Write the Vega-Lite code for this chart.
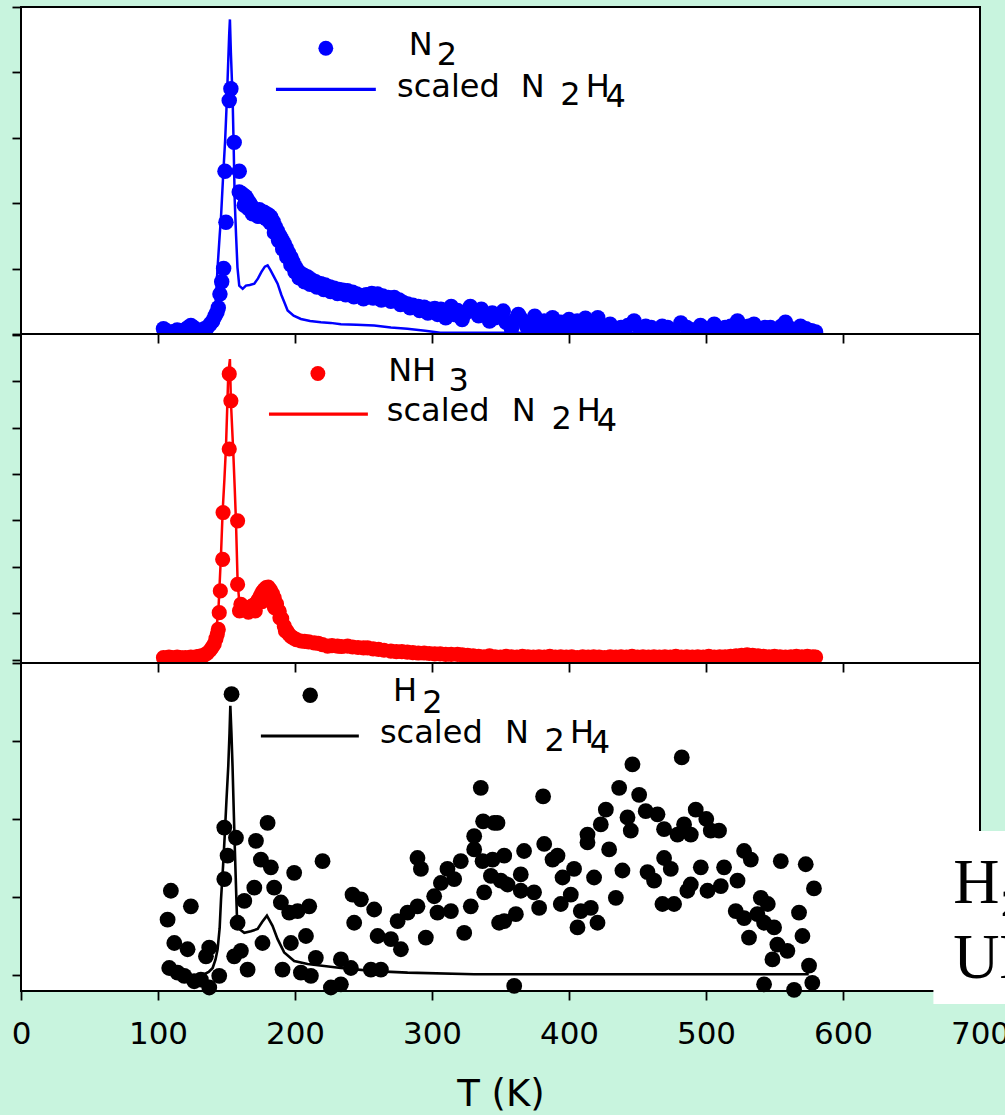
{
"$schema": "https://vega.github.io/schema/vega-lite/v6.json",
"padding": {"left": 10, "top": 5, "right": 0, "bottom": 20},
"background": "#c8f4de",
"bounds": "flush",
"spacing": 0,
"datasets": {
"n2dots": [
{"T":104,"v":0.08},{"T":106,"v":0.05},{"T":108,"v":0.03},{"T":110,"v":0.02},{"T":112,"v":0.04},{"T":114,"v":0.06},{"T":116,"v":0.05},{"T":118,"v":0.03},{"T":120,"v":0.07},{"T":122,"v":0.1},{"T":124,"v":0.13},{"T":126,"v":0.1},{"T":128,"v":0.06},{"T":130,"v":0.04},{"T":132,"v":0.06},{"T":134,"v":0.08},{"T":136,"v":0.1},{"T":138,"v":0.15},{"T":139.9,"v":0.2},{"T":141.5,"v":0.27},{"T":143,"v":0.33},{"T":144,"v":0.4},{"T":145.2,"v":0.61},{"T":146.5,"v":0.8},{"T":147.9,"v":1.0},{"T":149.6,"v":1.71},{"T":148.9,"v":2.49},{"T":152,"v":3.57},{"T":153.2,"v":3.75},{"T":155.6,"v":2.93},{"T":159.3,"v":2.49},{"T":159.3,"v":2.17},
{"T":161,"v":2.15},{"T":162.5,"v":2.12},{"T":164,"v":2.1},{"T":165.4,"v":2.05},{"T":167,"v":2.0},{"T":168.5,"v":1.95},{"T":170.3,"v":1.89},{"T":172,"v":1.88},{"T":174,"v":1.9},{"T":175.8,"v":1.87},{"T":177.5,"v":1.86},{"T":179,"v":1.84},{"T":180.7,"v":1.82},{"T":182.3,"v":1.79},{"T":184,"v":1.72},{"T":185.6,"v":1.64},{"T":187.3,"v":1.57},{"T":189,"v":1.5},{"T":190.5,"v":1.44},{"T":192.1,"v":1.38},{"T":193.7,"v":1.31},{"T":195.3,"v":1.24},{"T":197,"v":1.17},{"T":198.5,"v":1.1},{"T":200.2,"v":1.03},{"T":201.9,"v":0.97},{"T":204,"v":0.93},{"T":206.5,"v":0.9},{"T":209.2,"v":0.87},{"T":212,"v":0.83},{"T":215,"v":0.8},{"T":218.9,"v":0.77},{"T":222,"v":0.75},{"T":225.5,"v":0.72},{"T":228.6,"v":0.7},{"T":232,"v":0.68},{"T":235,"v":0.67},{"T":238.3,"v":0.66},{"T":242,"v":0.64},{"T":245,"v":0.61},{"T":248,"v":0.59},{"T":252,"v":0.6},{"T":256,"v":0.62},{"T":260.3,"v":0.61},{"T":264,"v":0.58},{"T":268,"v":0.56},{"T":272.4,"v":0.56},{"T":276,"v":0.52},{"T":279,"v":0.48},{"T":282.2,"v":0.46},{"T":286,"v":0.44},{"T":290,"v":0.42},{"T":294.3,"v":0.41},{"T":298,"v":0.38},{"T":302,"v":0.39},{"T":306.5,"v":0.38},{"T":310,"v":0.25},{"T":312,"v":0.36},{"T":316,"v":0.3},{"T":318.6,"v":0.36},{"T":322,"v":0.22},{"T":325,"v":0.33},{"T":330.8,"v":0.36},{"T":334,"v":0.28},{"T":338,"v":0.3},{"T":342,"v":0.2},{"T":346,"v":0.25},{"T":350,"v":0.28},{"T":354,"v":0.18},{"T":358,"v":0.08},{"T":361,"v":0.22},{"T":365,"v":0.23},{"T":369,"v":0.12},{"T":373,"v":0.2},{"T":377,"v":0.06},{"T":382,"v":0.2},{"T":386,"v":0.12},{"T":390,"v":0.1},{"T":394,"v":0.18},{"T":398,"v":0.06},{"T":402,"v":0.12},{"T":406,"v":0.2},{"T":410,"v":0.08},{"T":414,"v":0.15},{"T":418,"v":0.1},{"T":421,"v":0.25},{"T":425,"v":0.12},{"T":430,"v":0.15},{"T":434,"v":0.05},{"T":438,"v":0.1},{"T":443,"v":0.13},{"T":447.5,"v":0.2},{"T":452,"v":0.08},{"T":456,"v":0.12},{"T":460,"v":0.1},{"T":464,"v":0.06},{"T":468,"v":0.12},{"T":472,"v":0.1},{"T":476,"v":0.05},{"T":481.6,"v":0.17},{"T":486,"v":0.1},{"T":490,"v":0.06},{"T":496,"v":0.13},{"T":500,"v":0.08},{"T":506,"v":0.15},{"T":510,"v":0.05},{"T":514,"v":0.1},{"T":518,"v":0.12},{"T":523,"v":0.2},{"T":527,"v":0.08},{"T":531,"v":0.12},{"T":535,"v":0.15},{"T":539,"v":0.05},{"T":543,"v":0.1},{"T":547,"v":0.1},{"T":551,"v":0.06},{"T":555,"v":0.12},{"T":558,"v":0.18},{"T":562,"v":0.08},{"T":566,"v":0.05},{"T":569,"v":0.12},{"T":573,"v":0.08},{"T":577,"v":0.05},{"T":580,"v":0.03},
{"T":163,"v":1.97},{"T":166,"v":1.92},{"T":169,"v":1.84},{"T":173,"v":1.8},{"T":176,"v":1.8},{"T":179,"v":1.76},{"T":182,"v":1.7},{"T":185,"v":1.55},{"T":188,"v":1.43},{"T":191,"v":1.3},{"T":194,"v":1.18},{"T":197,"v":1.06},{"T":200,"v":0.95},{"T":203,"v":0.86},{"T":207,"v":0.8},{"T":211,"v":0.76},{"T":216,"v":0.72},{"T":221,"v":0.68},{"T":226,"v":0.65},{"T":231,"v":0.62},{"T":237,"v":0.6},{"T":243,"v":0.57},{"T":250,"v":0.54},{"T":257,"v":0.55},{"T":263,"v":0.52},{"T":270,"v":0.5},{"T":277,"v":0.45},{"T":284,"v":0.4},{"T":291,"v":0.36},{"T":297,"v":0.32},{"T":304,"v":0.3},{"T":314,"v":0.42},{"T":320,"v":0.27},{"T":328,"v":0.42},{"T":336,"v":0.38},{"T":344,"v":0.32},{"T":352,"v":0.35},{"T":363,"v":0.3},{"T":375,"v":0.27},{"T":388,"v":0.25},{"T":400,"v":0.22},{"T":412,"v":0.24}
],
"n2line": [
{"T":105,"v":0.02},{"T":115,"v":0.02},{"T":125,"v":0.03},{"T":132,"v":0.05},{"T":137,"v":0.1},{"T":140,"v":0.2},{"T":142,"v":0.45},{"T":143.5,"v":1.02},{"T":145,"v":1.5},{"T":146,"v":1.79},{"T":147.5,"v":2.4},{"T":149,"v":2.96},{"T":150.3,"v":3.6},{"T":151.3,"v":4.19},{"T":152,"v":4.6},{"T":152.5,"v":4.81},{"T":153.2,"v":4.3},{"T":154.5,"v":3.57},{"T":155.3,"v":2.8},{"T":156,"v":2.04},{"T":157,"v":1.5},{"T":158,"v":1.02},{"T":159.3,"v":0.74},{"T":161.8,"v":0.69},{"T":164.2,"v":0.74},{"T":167,"v":0.75},{"T":170.3,"v":0.77},{"T":173,"v":0.85},{"T":175.5,"v":0.95},{"T":178,"v":1.03},{"T":180,"v":1.05},{"T":182,"v":0.98},{"T":184.5,"v":0.88},{"T":187.3,"v":0.77},{"T":190,"v":0.6},{"T":192.5,"v":0.47},{"T":194.6,"v":0.36},{"T":199,"v":0.28},{"T":204.3,"v":0.23},{"T":211,"v":0.2},{"T":218.9,"v":0.18},{"T":226,"v":0.17},{"T":233.5,"v":0.15},{"T":245,"v":0.14},{"T":257.8,"v":0.13},{"T":270,"v":0.1},{"T":282,"v":0.08},{"T":295,"v":0.05},{"T":306,"v":0.02},{"T":350,"v":0.02},{"T":400,"v":0.02},{"T":450,"v":0.02},{"T":500,"v":0.02},{"T":550,"v":0.02},{"T":580,"v":0.02}
],
"nh3dots": [
{"T":104,"v":0.04},{"T":106,"v":0.03},{"T":108,"v":0.05},{"T":110,"v":0.04},{"T":112,"v":0.03},{"T":114,"v":0.05},{"T":116,"v":0.04},{"T":118,"v":0.03},{"T":120,"v":0.04},{"T":122,"v":0.03},{"T":124,"v":0.05},{"T":126,"v":0.04},{"T":128,"v":0.06},{"T":130,"v":0.07},{"T":132,"v":0.08},{"T":134,"v":0.1},{"T":136,"v":0.14},{"T":138,"v":0.2},{"T":139.5,"v":0.26},{"T":141,"v":0.33},{"T":142.3,"v":0.45},{"T":143.3,"v":0.55},{"T":144,"v":0.65},{"T":144.7,"v":1.01},{"T":145.5,"v":1.48},{"T":147.2,"v":2.16},{"T":147.5,"v":3.17},{"T":152,"v":4.54},{"T":152,"v":6.16},{"T":153.2,"v":5.58},{"T":158.1,"v":2.99},{"T":158.1,"v":1.62},
{"T":159.5,"v":1.05},{"T":160.5,"v":1.19},{"T":162,"v":1.1},{"T":163.5,"v":1.08},{"T":165.4,"v":1.11},{"T":167,"v":1.12},{"T":168.5,"v":1.15},{"T":170,"v":1.18},{"T":171.5,"v":1.2},{"T":173,"v":1.28},{"T":174.5,"v":1.36},{"T":176,"v":1.45},{"T":177.5,"v":1.51},{"T":179,"v":1.55},{"T":180.5,"v":1.56},{"T":182,"v":1.5},{"T":183.5,"v":1.42},{"T":184.8,"v":1.33},{"T":186.5,"v":1.2},{"T":188.5,"v":1.04},{"T":190.3,"v":0.88},{"T":192.2,"v":0.72},{"T":194,"v":0.62},{"T":195.5,"v":0.55},{"T":197,"v":0.5},{"T":199,"v":0.46},{"T":201,"v":0.43},{"T":204.3,"v":0.4},{"T":207,"v":0.39},{"T":210,"v":0.38},{"T":214,"v":0.36},{"T":217,"v":0.35},{"T":220,"v":0.32},{"T":223.8,"v":0.29},{"T":227,"v":0.3},{"T":231,"v":0.29},{"T":234,"v":0.28},{"T":238.4,"v":0.29},{"T":242,"v":0.27},{"T":246,"v":0.26},{"T":250,"v":0.25},{"T":253,"v":0.25},{"T":257,"v":0.23},{"T":261,"v":0.22},{"T":265,"v":0.2},{"T":270,"v":0.18},{"T":274,"v":0.17},{"T":278,"v":0.17},{"T":282,"v":0.16},{"T":286,"v":0.15},{"T":290,"v":0.14},{"T":294.3,"v":0.14},{"T":298,"v":0.13},{"T":302,"v":0.12},{"T":306,"v":0.12},{"T":310,"v":0.11},{"T":314,"v":0.11},{"T":318.6,"v":0.11},{"T":322,"v":0.1},{"T":326,"v":0.09},{"T":330,"v":0.08},
{"T":166,"v":1.02},{"T":171,"v":1.05},{"T":176,"v":1.25},{"T":181,"v":1.38},{"T":185,"v":1.12},{"T":189,"v":0.9},{"T":193,"v":0.62},
{"T":334,"v":0.07},{"T":338,"v":0.06},{"T":342,"v":0.08},{"T":346,"v":0.06},{"T":350,"v":0.05},{"T":354,"v":0.07},{"T":358,"v":0.06},{"T":362,"v":0.05},{"T":366,"v":0.07},{"T":370,"v":0.06},{"T":374,"v":0.05},{"T":378,"v":0.06},{"T":382,"v":0.05},{"T":386,"v":0.07},{"T":390,"v":0.05},{"T":394,"v":0.06},{"T":398,"v":0.05},{"T":402,"v":0.06},{"T":406,"v":0.04},{"T":410,"v":0.06},{"T":414,"v":0.05},{"T":418,"v":0.06},{"T":422,"v":0.05},{"T":426,"v":0.04},{"T":430,"v":0.06},{"T":434,"v":0.05},{"T":438,"v":0.06},{"T":442,"v":0.05},{"T":446,"v":0.07},{"T":450,"v":0.05},{"T":454,"v":0.06},{"T":458,"v":0.05},{"T":462,"v":0.06},{"T":466,"v":0.05},{"T":470,"v":0.06},{"T":474,"v":0.05},{"T":478,"v":0.07},{"T":482,"v":0.05},{"T":486,"v":0.06},{"T":490,"v":0.05},{"T":494,"v":0.06},{"T":498,"v":0.05},{"T":502,"v":0.07},{"T":506,"v":0.05},{"T":510,"v":0.06},{"T":514,"v":0.06},{"T":518,"v":0.07},{"T":522,"v":0.08},{"T":526,"v":0.09},{"T":530,"v":0.1},{"T":534,"v":0.09},{"T":538,"v":0.08},{"T":542,"v":0.07},{"T":546,"v":0.06},{"T":550,"v":0.07},{"T":554,"v":0.06},{"T":558,"v":0.05},{"T":562,"v":0.06},{"T":566,"v":0.07},{"T":570,"v":0.06},{"T":574,"v":0.07},{"T":578,"v":0.06},{"T":580,"v":0.05}
],
"nh3line": [
{"T":105,"v":0.02},{"T":120,"v":0.02},{"T":132,"v":0.04},{"T":137,"v":0.1},{"T":140,"v":0.25},{"T":142,"v":0.55},{"T":144,"v":1.0},{"T":146,"v":2.27},{"T":147.2,"v":3.2},{"T":148.5,"v":3.9},{"T":149.6,"v":4.57},{"T":150.5,"v":5.4},{"T":151.3,"v":6.16},{"T":152.5,"v":6.48},{"T":153.2,"v":5.58},{"T":154.1,"v":5.0},{"T":154.9,"v":4.5},{"T":156,"v":3.7},{"T":156.9,"v":2.99},{"T":158.1,"v":1.69},{"T":159.3,"v":1.25},{"T":161.8,"v":1.1},{"T":165.4,"v":1.12},{"T":170.3,"v":1.15},{"T":175,"v":1.4},{"T":179.5,"v":1.55},{"T":183.6,"v":1.38},{"T":187,"v":1.1},{"T":189.7,"v":0.92},{"T":194.6,"v":0.6},{"T":199,"v":0.48},{"T":204,"v":0.42},{"T":214,"v":0.36},{"T":224,"v":0.3},{"T":238,"v":0.28},{"T":253,"v":0.24},{"T":270,"v":0.18},{"T":294,"v":0.13},{"T":318,"v":0.1},{"T":333,"v":0.07},{"T":360,"v":0.05},{"T":400,"v":0.05},{"T":450,"v":0.05},{"T":500,"v":0.05},{"T":550,"v":0.05},{"T":580,"v":0.05}
],
"h2dots": [
{"T":153.7,"v":3.6},{"T":109.4,"v":1.08},{"T":107,"v":0.71},{"T":124,"v":0.88},{"T":111.9,"v":0.41},{"T":121.6,"v":0.33},{"T":108.2,"v":0.09},{"T":114.3,"v":0.03},{"T":119.2,"v":-0.01},{"T":126.4,"v":-0.08},{"T":131.3,"v":-0.06},{"T":137.4,"v":-0.16},{"T":144.7,"v":-0.01},{"T":137.4,"v":0.35},{"T":135,"v":0.24},{"T":148.4,"v":1.89},{"T":156.9,"v":1.76},{"T":150.8,"v":1.53},{"T":148.4,"v":1.23},{"T":180,"v":1.95},{"T":171.5,"v":1.72},{"T":175.1,"v":1.48},{"T":182.4,"v":1.38},{"T":170.3,"v":1.12},{"T":184.8,"v":1.12},{"T":163,"v":0.95},{"T":189.7,"v":0.93},{"T":195.8,"v":0.8},{"T":199.4,"v":1.31},{"T":210.4,"v":0.88},{"T":201.9,"v":0.82},{"T":220.1,"v":1.46},{"T":158.1,"v":0.67},{"T":160.5,"v":0.31},{"T":155.6,"v":0.24},{"T":176.3,"v":0.41},{"T":165.4,"v":0.07},{"T":197,"v":0.41},{"T":190.9,"v":0.07},{"T":208,"v":0.5},{"T":204.3,"v":0.03},{"T":215.2,"v":0.22},{"T":211.6,"v":-0.01},{"T":226.2,"v":-0.16},{"T":233.5,"v":-0.12},{"T":233.5,"v":0.2},{"T":240.8,"v":0.09},{"T":255.4,"v":0.07},{"T":262.7,"v":0.07},{"T":242,"v":1.03},{"T":248.1,"v":0.97},{"T":257.8,"v":0.84},{"T":243.2,"v":0.67},{"T":260.3,"v":0.5},{"T":270,"v":0.46},{"T":277.3,"v":0.33},{"T":274.9,"v":0.69},{"T":282.2,"v":0.8},{"T":289.4,"v":0.88},{"T":289.4,"v":1.5},{"T":291.9,"v":1.36},{"T":295.5,"v":0.48},{"T":301.6,"v":1.01},{"T":306.5,"v":1.18},{"T":311.3,"v":1.36},{"T":321,"v":1.46},{"T":316.2,"v":1.23},{"T":304,"v":0.8},{"T":313.8,"v":0.82},{"T":328.3,"v":0.88},{"T":323.5,"v":0.54},{"T":330.8,"v":1.78},{"T":335.6,"v":2.4},{"T":337.3,"v":1.97},{"T":330.8,"v":1.61},{"T":336.9,"v":1.46},{"T":344.2,"v":1.48},{"T":343,"v":1.27},{"T":338.1,"v":1.06},{"T":349,"v":0.67},{"T":345.4,"v":1.95},
{"T":347.8,"v":1.95},{"T":381.1,"v":2.29},{"T":436.6,"v":2.4},{"T":446.3,"v":2.7},{"T":451.2,"v":2.31},{"T":482.3,"v":2.79},{"T":426.9,"v":2.12},{"T":423.2,"v":1.93},{"T":413.5,"v":1.8},{"T":413.5,"v":1.7},{"T":429.3,"v":1.61},{"T":442.7,"v":2.02},{"T":445.1,"v":1.85},{"T":456,"v":2.1},{"T":464.6,"v":2.06},{"T":469.4,"v":1.87},{"T":479.2,"v":1.8},{"T":484,"v":1.93},{"T":488.9,"v":1.8},{"T":492.5,"v":2.12},{"T":500.2,"v":2.0},{"T":503.5,"v":1.85},{"T":509.5,"v":1.85},{"T":527.8,"v":1.59},{"T":532.7,"v":1.48},{"T":554.6,"v":1.46},{"T":572.8,"v":1.42},{"T":578.8,"v":1.11},{"T":469.4,"v":1.5},{"T":474.3,"v":1.36},{"T":439,"v":1.34},{"T":457.3,"v":1.32},{"T":462.1,"v":1.21},{"T":496.2,"v":1.38},{"T":513.2,"v":1.38},{"T":488.9,"v":1.16},{"T":486.4,"v":1.08},{"T":501.1,"v":1.08},{"T":510.8,"v":1.14},{"T":523,"v":1.21},{"T":540,"v":0.99},{"T":545.1,"v":0.91},{"T":521.7,"v":0.82},{"T":527.8,"v":0.73},{"T":537.5,"v":0.78},{"T":542.4,"v":0.67},{"T":549.7,"v":0.61},{"T":567.9,"v":0.8},{"T":570.4,"v":0.5},{"T":531.4,"v":0.48},{"T":552.1,"v":0.39},{"T":559.4,"v":0.31},{"T":548.5,"v":0.2},{"T":575.2,"v":0.12},{"T":577.6,"v":-0.1},{"T":564.3,"v":-0.19},{"T":542.4,"v":-0.12},{"T":360,"v":-0.14},{"T":381.9,"v":1.68},{"T":388,"v":1.48},{"T":391.6,"v":1.53},{"T":367.2,"v":1.59},{"T":352.7,"v":1.53},{"T":350.2,"v":1.21},{"T":355.1,"v":1.16},{"T":364.8,"v":1.29},{"T":364.8,"v":1.08},{"T":374.5,"v":1.06},{"T":378.2,"v":0.86},{"T":394,"v":0.91},{"T":401.3,"v":1.03},{"T":403.7,"v":1.36},{"T":395.3,"v":1.25},{"T":415.9,"v":0.86},{"T":418.3,"v":1.25},{"T":408.6,"v":0.82},{"T":406.2,"v":0.61},{"T":420.8,"v":0.67},{"T":352.7,"v":0.69},{"T":361.2,"v":0.78},{"T":434.2,"v":0.99},{"T":468.2,"v":0.91},{"T":476.7,"v":0.91}
],
"h2line": [
{"T":130,"v":0.0},{"T":133.8,"v":0.01},{"T":137,"v":0.04},{"T":139.9,"v":0.09},{"T":142,"v":0.2},{"T":143.5,"v":0.33},{"T":145,"v":0.6},{"T":146,"v":0.97},{"T":147.5,"v":1.4},{"T":148.8,"v":1.82},{"T":150,"v":2.25},{"T":151.3,"v":2.68},{"T":152.2,"v":3.1},{"T":152.8,"v":3.45},{"T":153.6,"v":3.1},{"T":154.4,"v":2.68},{"T":155.3,"v":2.1},{"T":156.1,"v":1.61},{"T":156.9,"v":1.15},{"T":157.6,"v":0.76},{"T":159.3,"v":0.59},{"T":163,"v":0.54},{"T":167.8,"v":0.56},{"T":172.7,"v":0.59},{"T":176,"v":0.68},{"T":179.5,"v":0.76},{"T":183.6,"v":0.63},{"T":187.3,"v":0.46},{"T":192.1,"v":0.29},{"T":199.4,"v":0.18},{"T":209.2,"v":0.14},{"T":233.5,"v":0.09},{"T":257.8,"v":0.05},{"T":282.2,"v":0.03},{"T":330.8,"v":0.01},{"T":400,"v":0.01},{"T":500,"v":0.01},{"T":575,"v":0.01}
]
},
"vconcat": [
{
"width": 959, "height": 327,
"data": {"values": [{}]},
"resolve": {"axis": {"x": "independent", "y": "independent"}},
"layer": [
{"data": {"name": "n2dots"}, "mark": {"type": "circle", "size": 240, "color": "#0000ff", "opacity": 1},
 "encoding": {"x": {"field": "T", "type": "quantitative", "scale": {"domain": [0, 700], "nice": false, "zero": false}, "axis": null},
  "y": {"field": "v", "type": "quantitative", "scale": {"domain": [0, 5], "nice": false, "zero": false}, "axis": {"values": [0, 1, 2, 3, 4, 5], "labels": false, "title": null}}}},
{"data": {"name": "n2line"}, "mark": {"type": "line", "color": "#0000ff", "strokeWidth": 2.5},
 "encoding": {"x": {"field": "T", "type": "quantitative", "axis": null}, "y": {"field": "v", "type": "quantitative", "axis": null}}},
{"mark": {"type": "circle", "size": 220, "color": "#0000ff", "opacity": 1},
 "encoding": {"x": {"datum": 222.5, "type": "quantitative", "axis": null}, "y": {"datum": 4.369, "type": "quantitative", "axis": null}}},
{"mark": {"type": "rule", "color": "#0000ff", "strokeWidth": 3.2},
 "encoding": {"x": {"datum": 186.1, "type": "quantitative", "axis": null}, "x2": {"datum": 259.0}, "y": {"datum": 3.741, "type": "quantitative", "axis": null}}},
{"mark": {"type": "text", "text": "N"}, "encoding": {"x": {"datum": 283, "type": "quantitative", "axis": null}, "y": {"datum": 4.262, "type": "quantitative", "axis": null}}},
{"mark": {"type": "text", "text": "2"}, "encoding": {"x": {"datum": 303.5, "type": "quantitative", "axis": null}, "y": {"datum": 4.109, "type": "quantitative", "axis": null}}},
{"mark": {"type": "text", "text": "scaled"}, "encoding": {"x": {"datum": 274.5, "type": "quantitative", "axis": null}, "y": {"datum": 3.619, "type": "quantitative", "axis": null}}},
{"mark": {"type": "text", "text": "N"}, "encoding": {"x": {"datum": 364.7, "type": "quantitative", "axis": null}, "y": {"datum": 3.619, "type": "quantitative", "axis": null}}},
{"mark": {"type": "text", "text": "2"}, "encoding": {"x": {"datum": 393.7, "type": "quantitative", "axis": null}, "y": {"datum": 3.496, "type": "quantitative", "axis": null}}},
{"mark": {"type": "text", "text": "H"}, "encoding": {"x": {"datum": 412.2, "type": "quantitative", "axis": null}, "y": {"datum": 3.619, "type": "quantitative", "axis": null}}},
{"mark": {"type": "text", "text": "4"}, "encoding": {"x": {"datum": 426.7, "type": "quantitative", "axis": null}, "y": {"datum": 3.465, "type": "quantitative", "axis": null}}}
]
},
{
"width": 959, "height": 329,
"data": {"values": [{}]},
"resolve": {"axis": {"x": "independent", "y": "independent"}},
"layer": [
{"data": {"name": "nh3dots"}, "mark": {"type": "circle", "size": 230, "color": "#ff0000", "opacity": 1},
 "encoding": {"x": {"field": "T", "type": "quantitative", "scale": {"domain": [0, 700], "nice": false, "zero": false}, "axis": {"orient": "top", "values": [100, 200, 300, 400, 500, 600], "tickSize": -9, "labels": false, "title": null}},
  "y": {"field": "v", "type": "quantitative", "scale": {"domain": [-0.075, 7.02], "nice": false, "zero": false}, "axis": {"values": [0, 1, 2, 3, 4, 5, 6, 7], "labels": false, "title": null}}}},
{"data": {"name": "nh3line"}, "mark": {"type": "line", "color": "#ff0000", "strokeWidth": 2.5},
 "encoding": {"x": {"field": "T", "type": "quantitative", "axis": null}, "y": {"field": "v", "type": "quantitative", "axis": null}}},
{"mark": {"type": "circle", "size": 220, "color": "#ff0000", "opacity": 1},
 "encoding": {"x": {"datum": 216.7, "type": "quantitative", "axis": null}, "y": {"datum": 6.169, "type": "quantitative", "axis": null}}},
{"mark": {"type": "rule", "color": "#ff0000", "strokeWidth": 3.2},
 "encoding": {"x": {"datum": 181.0, "type": "quantitative", "axis": null}, "x2": {"datum": 253.2}, "y": {"datum": 5.292, "type": "quantitative", "axis": null}}},
{"mark": {"type": "text", "text": "NH"}, "encoding": {"x": {"datum": 268, "type": "quantitative", "axis": null}, "y": {"datum": 6.011, "type": "quantitative", "axis": null}}},
{"mark": {"type": "text", "text": "3"}, "encoding": {"x": {"datum": 312, "type": "quantitative", "axis": null}, "y": {"datum": 5.795, "type": "quantitative", "axis": null}}},
{"mark": {"type": "text", "text": "scaled"}, "encoding": {"x": {"datum": 267, "type": "quantitative", "axis": null}, "y": {"datum": 5.147, "type": "quantitative", "axis": null}}},
{"mark": {"type": "text", "text": "N"}, "encoding": {"x": {"datum": 358.2, "type": "quantitative", "axis": null}, "y": {"datum": 5.147, "type": "quantitative", "axis": null}}},
{"mark": {"type": "text", "text": "2"}, "encoding": {"x": {"datum": 387.2, "type": "quantitative", "axis": null}, "y": {"datum": 4.974, "type": "quantitative", "axis": null}}},
{"mark": {"type": "text", "text": "H"}, "encoding": {"x": {"datum": 405.7, "type": "quantitative", "axis": null}, "y": {"datum": 5.147, "type": "quantitative", "axis": null}}},
{"mark": {"type": "text", "text": "4"}, "encoding": {"x": {"datum": 420.2, "type": "quantitative", "axis": null}, "y": {"datum": 4.931, "type": "quantitative", "axis": null}}}
]
},
{
"width": 959, "height": 328,
"data": {"values": [{}]},
"resolve": {"axis": {"x": "independent", "y": "independent"}},
"layer": [
{"data": {"name": "h2dots"}, "mark": {"type": "circle", "size": 250, "color": "#000000", "opacity": 1},
 "encoding": {"x": {"field": "T", "type": "quantitative", "scale": {"domain": [0, 700], "nice": false, "zero": false}, "axis": {"orient": "bottom", "values": [0, 100, 200, 300, 400, 500, 600, 700], "labelFlush": false, "labelPadding": 19, "title": "T (K)", "titlePadding": 27, "titleFontSize": 37}},
  "y": {"field": "v", "type": "quantitative", "scale": {"domain": [-0.205, 4], "nice": false, "zero": false}, "axis": {"values": [0, 1, 2, 3, 4], "labels": false, "title": null}}}},
{"data": {"name": "h2line"}, "mark": {"type": "line", "color": "#000000", "strokeWidth": 2.6},
 "encoding": {"x": {"field": "T", "type": "quantitative", "axis": {"orient": "top", "values": [100, 200, 300, 400, 500, 600], "tickSize": -9, "labels": false, "title": null}}, "y": {"field": "v", "type": "quantitative", "axis": null}}},
{"mark": {"type": "circle", "size": 240, "color": "#000000", "opacity": 1},
 "encoding": {"x": {"datum": 211.1, "type": "quantitative", "axis": null}, "y": {"datum": 3.586, "type": "quantitative", "axis": null}}},
{"mark": {"type": "rule", "color": "#000000", "strokeWidth": 3.2},
 "encoding": {"x": {"datum": 175.1, "type": "quantitative", "axis": null}, "x2": {"datum": 246.6}, "y": {"datum": 3.064, "type": "quantitative", "axis": null}}},
{"mark": {"type": "text", "text": "H"}, "encoding": {"x": {"datum": 271.5, "type": "quantitative", "axis": null}, "y": {"datum": 3.513, "type": "quantitative", "axis": null}}},
{"mark": {"type": "text", "text": "2"}, "encoding": {"x": {"datum": 292.8, "type": "quantitative", "axis": null}, "y": {"datum": 3.363, "type": "quantitative", "axis": null}}},
{"mark": {"type": "text", "text": "scaled"}, "encoding": {"x": {"datum": 262, "type": "quantitative", "axis": null}, "y": {"datum": 2.971, "type": "quantitative", "axis": null}}},
{"mark": {"type": "text", "text": "N"}, "encoding": {"x": {"datum": 353.2, "type": "quantitative", "axis": null}, "y": {"datum": 2.971, "type": "quantitative", "axis": null}}},
{"mark": {"type": "text", "text": "2"}, "encoding": {"x": {"datum": 382.2, "type": "quantitative", "axis": null}, "y": {"datum": 2.872, "type": "quantitative", "axis": null}}},
{"mark": {"type": "text", "text": "H"}, "encoding": {"x": {"datum": 400.7, "type": "quantitative", "axis": null}, "y": {"datum": 2.971, "type": "quantitative", "axis": null}}},
{"mark": {"type": "text", "text": "4"}, "encoding": {"x": {"datum": 415.2, "type": "quantitative", "axis": null}, "y": {"datum": 2.846, "type": "quantitative", "axis": null}}},
{"mark": {"type": "rect", "color": "#ffffff", "opacity": 1},
 "encoding": {"x": {"datum": 666, "type": "quantitative", "axis": null}, "x2": {"datum": 760}, "y": {"datum": 1.846, "type": "quantitative", "axis": null}, "y2": {"datum": -0.372}}},
{"mark": {"type": "text", "text": "H₂O", "font": "Liberation Serif", "fontSize": 64}, "encoding": {"x": {"datum": 680.4, "type": "quantitative", "axis": null}, "y": {"datum": 0.923, "type": "quantitative", "axis": null}}},
{"mark": {"type": "text", "text": "UHV", "font": "Liberation Serif", "fontSize": 64}, "encoding": {"x": {"datum": 680.4, "type": "quantitative", "axis": null}, "y": {"datum": -0.038, "type": "quantitative", "axis": null}}}
]
}
],
"config": {
"view": {"stroke": "#000000", "strokeWidth": 2, "fill": "#ffffff"},
"axis": {"grid": false, "domain": false, "tickColor": "#000000", "tickWidth": 1.8, "tickSize": 9, "labelFont": "DejaVu Sans", "labelFontSize": 31, "labelColor": "#000000", "titleFont": "DejaVu Sans", "titleFontSize": 34, "titleFontWeight": "normal", "titleColor": "#000000"},
"text": {"font": "DejaVu Sans", "fontSize": 32, "align": "left", "baseline": "alphabetic", "color": "#000000"}
}
}
